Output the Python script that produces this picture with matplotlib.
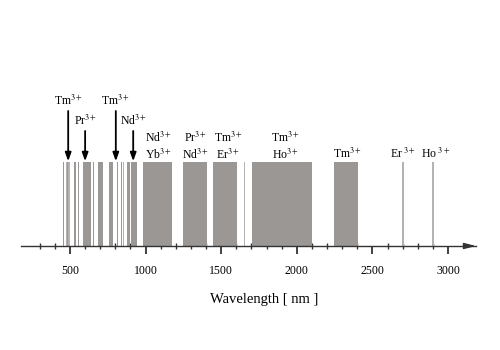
import matplotlib
matplotlib.use("Agg")
import matplotlib.pyplot as plt

# ---- data (nm) ----
band_start = [454, 474, 482, 529, 553, 586, 653, 687, 758, 812, 837, 848, 875, 903,
              983, 1249, 1448, 1650, 1702, 2248, 2698, 2896]
band_end   = [462, 500, 490, 537, 561, 639, 661, 718, 782, 820, 846, 859, 897, 943,
              1175, 1406, 1602, 1658, 2102, 2407, 2707, 2905]
band_light = [False, True, False, False, False, False, False, False, False, False, False, True, False, False,
              False, False, False, True, False, False, True, True]

arrow_ions = ["Tm", "Pr", "Tm", "Nd"]
arrow_nm = [488, 600, 803, 918]
arrow_high = [True, False, True, False]

group_top = ["Nd", "Pr", "Tm", "Tm"]
group_bottom = ["Yb", "Nd", "Er", "Ho"]
group_nm = [1082, 1327, 1545, 1922]

single_ions = ["Tm", "Er", "Ho"]
single_nm = [2332, 2702, 2920]

major_ticks = [500, 1000, 1500, 2000, 2500, 3000]
minor_ticks = [w for w in range(300, 3100, 100) if w % 500 != 0]

# ---- style ----
plt.rcParams['font.family'] = ['Liberation Serif', 'DejaVu Serif']
plt.rcParams['mathtext.fontset'] = 'stix'

W, H = 500, 350
fig = plt.figure(figsize=(5, 3.5), dpi=100)
x0, x1 = 21, 476
ax = fig.add_axes([x0 / W, (H - 246) / H, (x1 - x0) / W, 156 / H])
px_per_nm = 75.6 / 500
lam_left = 500 + (x0 - 70) / px_per_nm
lam_right = 500 + (x1 - 70) / px_per_nm
ax.set_xlim(lam_left, lam_right)
ax.set_ylim(0, 1)

top = (246 - 162) / 156
dark = '#9a9795'
light = '#b4b3b2'
for s, e, lt in zip(band_start, band_end, band_light):
    ax.bar(s, top, width=e - s, align='edge', bottom=0,
           color=light if lt else dark, edgecolor='none', lw=0, zorder=2)

def ion(name):
    return name + r'$^{3+}$'

def ypix(p):
    return (246 - p) / 156

fs = 8.5
for name, nm, hi in zip(arrow_ions, arrow_nm, arrow_high):
    ystart = ypix(111) if hi else ypix(131)
    ylab = ypix(101) if hi else ypix(121)
    ax.annotate('', xy=(nm, top + 0.005), xytext=(nm, ystart),
                arrowprops=dict(arrowstyle='-|>,head_width=0.18,head_length=0.5',
                                color='black', lw=1.3, shrinkA=0, shrinkB=0), zorder=4)
    ax.text(nm, ylab, ion(name), ha='center', va='center', fontsize=fs)

for a, b, nm in zip(group_top, group_bottom, group_nm):
    ax.text(nm, ypix(138), ion(a), ha='center', va='center', fontsize=fs)
    ax.text(nm, ypix(155), ion(b), ha='center', va='center', fontsize=fs)

for i, (name, nm) in enumerate(zip(single_ions, single_nm)):
    lbl = ion(name) if i == 0 else name + r'$\;^{3+}$'
    ax.text(nm, ypix(154), lbl, ha='center', va='center', fontsize=fs)

for sp in ['top', 'left', 'right']:
    ax.spines[sp].set_visible(False)
ax.spines['bottom'].set_color('#333333')
ax.spines['bottom'].set_linewidth(1.0)
ax.yaxis.set_visible(False)
ax.set_xticks(major_ticks)
ax.set_xticklabels([str(t) for t in major_ticks], fontsize=8.5)
ax.set_xticks(minor_ticks, minor=True)
ax.tick_params(axis='x', which='major', direction='out', length=6, width=1.2, color='#222222', pad=8)
ax.tick_params(axis='x', which='minor', direction='inout', length=4, width=1.0, color='#333333')
ax.annotate('', xy=(x1 / W, (H - 246) / H), xytext=((x1 - 12) / W, (H - 246) / H),
            xycoords='figure fraction',
            arrowprops=dict(arrowstyle='-|>,head_width=0.18,head_length=0.7',
                            color='#333333', lw=1.0, shrinkA=0, shrinkB=0))

fig.text(264.5 / W, (H - 300) / H, 'Wavelength [ nm ]', ha='center', va='center', fontsize=10.5)

fig.savefig('out.png', dpi=100)
